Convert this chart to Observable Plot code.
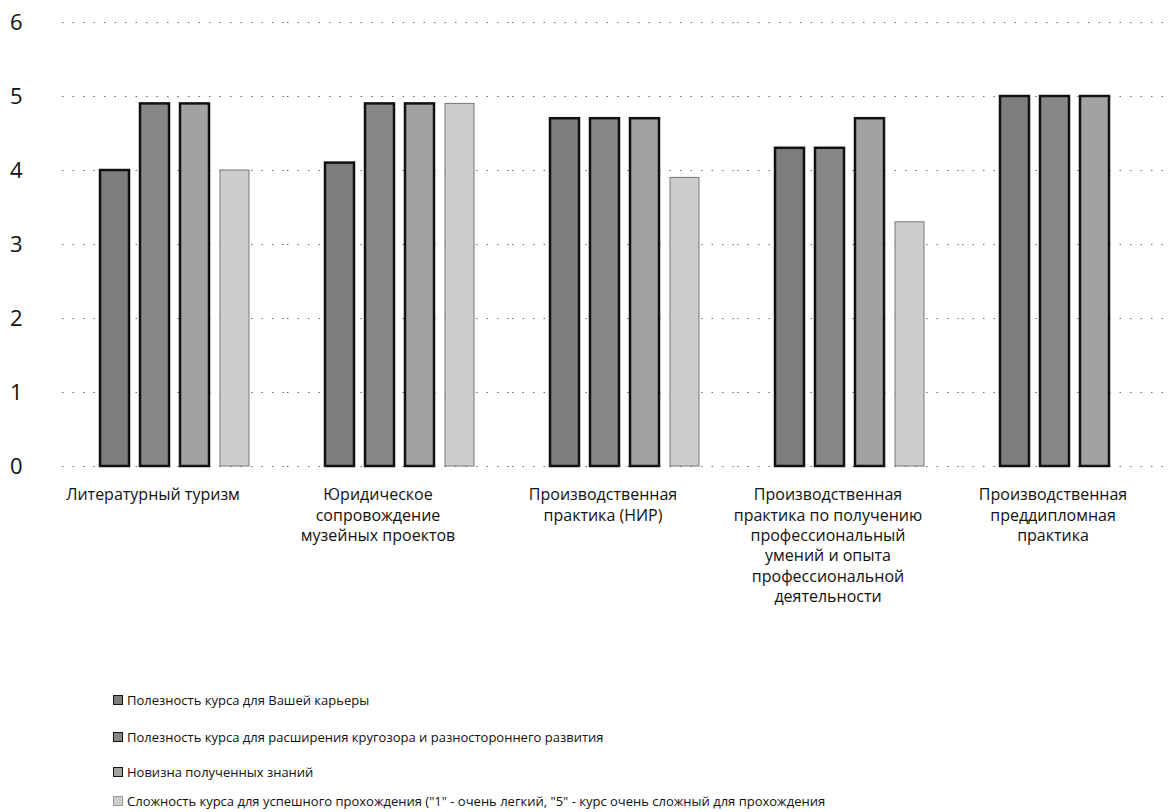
<!DOCTYPE html>
<html>
<head>
<meta charset="utf-8">
<script src="https://cdn.jsdelivr.net/npm/d3@7"></script>
<script src="https://cdn.jsdelivr.net/npm/@observablehq/plot@0.6"></script>
<style>
  html, body { margin: 0; padding: 0; background: #fff; overflow: hidden; }
  body { width: 1168px; height: 812px; position: relative; font-family: "Open Sans", "Noto Sans", sans-serif; }
  #chart { position: absolute; left: 0; top: 0; }
  .leg { position: absolute; left: 113px; font-size: 13px; line-height: 18px; color: #111; white-space: nowrap; }
  .leg .sw { display: inline-block; width: 8px; height: 8px; border: 1px solid #111; margin-right: 4px; vertical-align: -0px; }
</style>
</head>
<body>
<div id="chart"></div>
<div id="legend"></div>
<script>
// ---- data ----
const categories = [
  "Литературный туризм",
  "Юридическое сопровождение музейных проектов",
  "Производственная практика (НИР)",
  "Производственная практика по получению профессиональный умений и опыта профессиональной деятельности",
  "Производственная преддипломная практика"
];
const categoryLabels = [
  "Литературный туризм",
  "Юридическое\nсопровождение\nмузейных проектов",
  "Производственная\nпрактика (НИР)",
  "Производственная\nпрактика по получению\nпрофессиональный\nумений и опыта\nпрофессиональной\nдеятельности",
  "Производственная\nпреддипломная\nпрактика"
];
const seriesNames = [
  "Полезность курса для Вашей карьеры",
  "Полезность курса для расширения кругозора и разностороннего развития",
  "Новизна полученных знаний",
  "Сложность курса для успешного прохождения (\"1\" - очень легкий, \"5\" - курс очень сложный для прохождения"
];
const careerValues     = [4.0, 4.1, 4.7, 4.3, 5.0];
const outlookValues    = [4.9, 4.9, 4.7, 4.3, 5.0];
const noveltyValues    = [4.9, 4.9, 4.7, 4.7, 5.0];
const difficultyValues = [4.0, 4.9, 3.9, 3.3, null];
const yTicks = [0, 1, 2, 3, 4, 5, 6];

const seriesFills = ["#7d7d7d", "#878787", "#a2a2a2", "#cdcdcd"];

// ---- build table ----
const valueLists = [careerValues, outlookValues, noveltyValues, difficultyValues];
const rows = [];
categories.forEach((c, i) => {
  seriesNames.forEach((s, j) => {
    const v = valueLists[j][i];
    if (v != null) rows.push({category: c, series: s, value: v});
  });
});
const labelOf = new Map(categories.map((c, i) => [c, categoryLabels[i]]));

const chart = Plot.plot({
  width: 1168,
  height: 620,
  marginLeft: 62,
  marginRight: 0,
  marginTop: 22,
  marginBottom: 154,
  style: {fontFamily: "'Open Sans', 'Noto Sans', sans-serif", background: "transparent", color: "#111"},
  fx: {domain: categories, range: [62, 1187], paddingInner: 0, paddingOuter: 0, axis: null, label: null},
  x: {domain: seriesNames, paddingInner: 0.27, paddingOuter: 0.88, axis: null, label: null},
  y: {domain: [0, 6], axis: null, label: null},
  color: {domain: seriesNames, range: seriesFills},
  marks: [
    Plot.ruleY(yTicks, {y: d => d, stroke: "#444", strokeWidth: 1, strokeDasharray: "1.5,9", strokeOpacity: 0.8}),
    Plot.barY(rows.filter(d => d.series !== seriesNames[3]), {fx: "category", x: "series", y: "value", fill: "series", stroke: "#111", strokeWidth: 2.5}),
    Plot.barY(rows.filter(d => d.series === seriesNames[3]), {fx: "category", x: "series", y: "value", fill: "series", stroke: "#777", strokeWidth: 1}),
    Plot.axisY({ticks: yTicks, tickSize: 0, tickPadding: 40, fontSize: 22, label: null, tickFormat: d => String(d)}),
    Plot.text(categories, {fx: d => d, text: d => labelOf.get(d), frameAnchor: "bottom", lineAnchor: "top", dx: -22, dy: 19, fontSize: 16, lineHeight: 1.28, fill: "#111"})
  ]
});
document.getElementById("chart").appendChild(chart);

// ---- legend ----
const legendCenters = [700, 737, 772, 801];
const legend = document.getElementById("legend");
seriesNames.forEach((s, i) => {
  const div = document.createElement("div");
  div.className = "leg";
  div.style.top = (legendCenters[i] - 9) + "px";
  const sw = document.createElement("span");
  sw.className = "sw";
  sw.style.background = seriesFills[i];
  if (i === 3) sw.style.borderColor = "#999";
  div.appendChild(sw);
  div.appendChild(document.createTextNode(s));
  legend.appendChild(div);
});
</script>
</body>
</html>
